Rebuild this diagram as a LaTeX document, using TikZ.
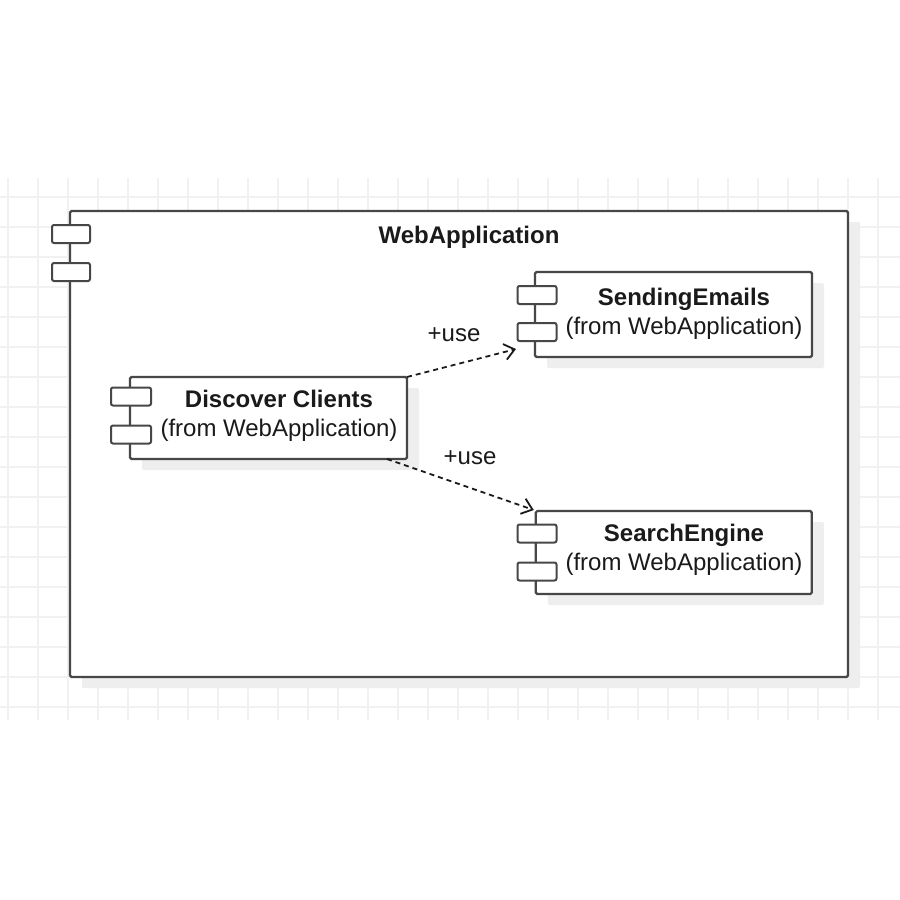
\documentclass[tikz,border=0pt]{standalone}
\usepackage{fontspec}
\setmainfont{Liberation Sans}
\usetikzlibrary{arrows.meta,shadows}
\definecolor{gridc}{HTML}{F1F1F1}
\definecolor{edge}{HTML}{474747}
\definecolor{ink}{HTML}{1A1A1A}
\definecolor{shade}{HTML}{EEEEEE}
\tikzset{
  box/.style={draw=edge, line width=2.2pt, fill=white, rounded corners=1.5pt, inner sep=0pt, outer sep=0pt,
    drop shadow={shadow xshift=12pt, shadow yshift=-11pt, fill=shade, opacity=1}},
  tab/.style={draw=edge, line width=2pt, fill=white, rounded corners=2pt, minimum width=39pt, minimum height=18pt, inner sep=0pt, outer sep=0pt},
  lbl/.style={text=ink, font=\fontsize{24}{29}\selectfont, align=center, inner sep=0pt},
  ttl/.style={text=ink, font=\fontsize{24}{29}\selectfont\bfseries, inner sep=0pt},
  dep/.style={draw=ink, line width=1.8pt, dash pattern=on 5pt off 4pt,
    -{Straight Barb[length=10pt,width=16pt,line width=1.8pt]}},
  gridline/.style={draw=gridc, line width=1.4pt}
}
\begin{document}
\begin{tikzpicture}[x=1pt,y=-1pt]
\fill[white] (0,0) rectangle (900,900);
\useasboundingbox (0,0) rectangle (900,900);
% background grid
\foreach \gx in {8,38,...,878} \draw[gridline] (\gx,178) -- (\gx,720);
\foreach \gy in {197,227,...,707} \draw[gridline] (0,\gy) -- (900,\gy);
% package frame
\node[box, minimum width=778pt, minimum height=466pt] (web) at (459,444) {};
\node[tab, minimum width=38pt] (webt1) at (71,234) {};
\node[tab, minimum width=38pt] (webt2) at (71,272) {};
\node[ttl] (webn) at (469,237) {WebApplication};
% Discover Clients
\node[box, minimum width=277pt, minimum height=82pt] (dc) at (268.5,418) {};
\node[tab, minimum width=40pt] (dct1) at (131,396.5) {};
\node[tab, minimum width=40pt] (dct2) at (131,434.5) {};
\node[lbl] (dcn) at (279,416) {\textbf{Discover Clients}\\(from WebApplication)};
% SendingEmails
\node[box, minimum width=277pt, minimum height=85pt] (sm) at (673.5,314.5) {};
\node[tab] (smt1) at (537,295) {};
\node[tab] (smt2) at (537,332) {};
\node[lbl] (smn) at (684,314) {\textbf{SendingEmails}\\(from WebApplication)};
% SearchEngine
\node[box, minimum width=276pt, minimum height=83pt] (sr) at (673.8,552.5) {};
\node[tab] (srt1) at (537,533.5) {};
\node[tab] (srt2) at (537,571.5) {};
\node[lbl] (srn) at (684,550) {\textbf{SearchEngine}\\(from WebApplication)};
% dependencies
\draw[dep] (dc.north east) -- ([shift={(-19,-8)}]sm.south west);
\draw[dep] ([xshift=-20pt]dc.south east) -- ([shift={(-2,-1)}]sr.north west);
\node[lbl] (use1) at (454,335) {+use};
\node[lbl] (use2) at (470,458) {+use};
\end{tikzpicture}
\end{document}
